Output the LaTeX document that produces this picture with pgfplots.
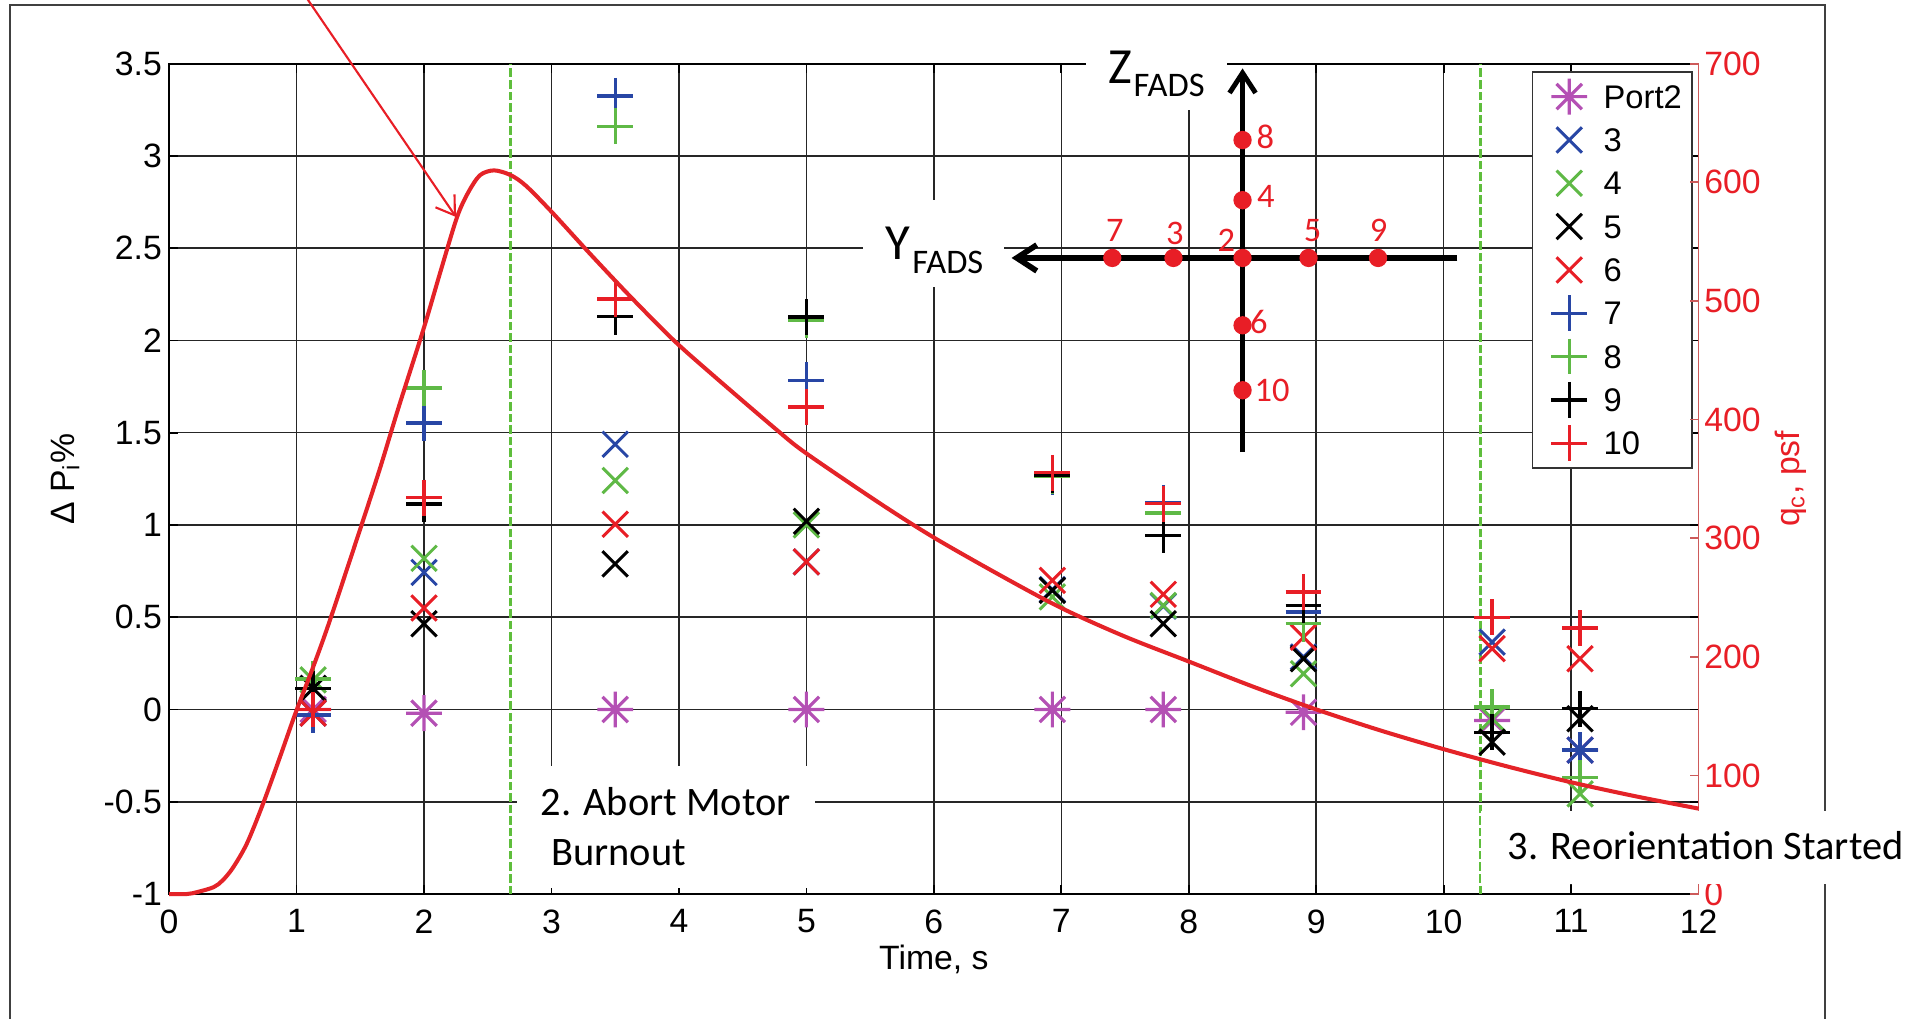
\documentclass[border=0pt]{standalone}
\usepackage{pgfplots}
\pgfplotsset{compat=1.18}
\usepackage{fontspec}
\setmainfont{Liberation Sans}
\newfontfamily\calib{Carlito}
\usetikzlibrary{arrows.meta}

\definecolor{mblue}{RGB}{40,70,165}
\definecolor{mgreen}{RGB}{95,185,70}
\definecolor{mred}{RGB}{232,30,38}
\definecolor{mpurple}{RGB}{180,80,180}
\definecolor{qred}{RGB}{228,35,40}
\definecolor{raxis}{RGB}{205,90,90}
\definecolor{gdash}{RGB}{95,190,60}

\pgfdeclareplotmark{mstar}{%
  \pgfpathmoveto{\pgfqpoint{-\pgfplotmarksize}{0pt}}\pgfpathlineto{\pgfqpoint{\pgfplotmarksize}{0pt}}%
  \pgfpathmoveto{\pgfqpoint{0pt}{-\pgfplotmarksize}}\pgfpathlineto{\pgfqpoint{0pt}{\pgfplotmarksize}}%
  \pgfpathmoveto{\pgfqpoint{-.7071\pgfplotmarksize}{-.7071\pgfplotmarksize}}\pgfpathlineto{\pgfqpoint{.7071\pgfplotmarksize}{.7071\pgfplotmarksize}}%
  \pgfpathmoveto{\pgfqpoint{-.7071\pgfplotmarksize}{.7071\pgfplotmarksize}}\pgfpathlineto{\pgfqpoint{.7071\pgfplotmarksize}{-.7071\pgfplotmarksize}}%
  \pgfusepathqstroke}

\newcommand{\tf}{\fontsize{9.6pt}{11.5pt}\selectfont}
\newcommand{\lf}{\fontsize{9.3pt}{11pt}\selectfont}

\begin{document}
\begin{tikzpicture}
\begin{axis}[
  scale only axis, width=15.286cm, height=8.299cm,
  xmin=0, xmax=12, ymin=-1, ymax=3.5,
  clip=false,
  xtick={0,1,2,3,4,5,6,7,8,9,10,11,12},
  xticklabels={0,1,2,3,4,5,6,7,8,9,10,11,12},
  ytick={-1,-0.5,0,0.5,1,1.5,2,2.5,3,3.5},
  yticklabels={-1,-0.5,0,0.5,1,1.5,2,2.5,3,3.5},
  grid=major, grid style={black!85, line width=0.45pt},
  axis line style={black, line width=0.5pt},
  tick style={black, line width=0.5pt}, major tick length=0.09cm, tick align=inside,
  tick label style={font=\tf},
  xticklabel style={anchor=north, inner sep=0pt, yshift=-0.15cm},
  yticklabel style={anchor=east, inner sep=0pt, xshift=-0.065cm},
  legend style={at={(axis description cs:0.99614,0.99108)}, anchor=north east,
    draw=black!80, line width=0.5pt, fill=white, inner xsep=0.1cm, inner ysep=0.03cm,
    row sep=0pt, font=\lf,
    nodes={inner sep=0pt, text height=0.3315cm, text depth=0.1015cm}},
  legend cell align=left,
  legend image code/.code={\path (0cm,0cm) (0.577cm,0cm); \draw[only marks,#1] plot coordinates {(0.25cm,0cm)};},
]
\coordinate (O) at (axis cs:0,-1);

\addplot[forget plot, gdash, line width=0.85pt, dash pattern=on 0.085cm off 0.03cm] coordinates {(2.68,-1) (2.68,3.5)};
\addplot[forget plot, gdash, line width=0.85pt, dash pattern=on 0.085cm off 0.03cm] coordinates {(10.29,-1) (10.29,3.5)};

\addplot[only marks, mark=mstar, color=mpurple, mark size=5.1pt, line width=0.9pt] coordinates {
 (1.13,0) (2.0,-0.02) (3.5,0) (5.0,0) (6.93,0) (7.8,0) (8.9,-0.015) (10.38,-0.06) (11.07,-0.22)};
\addlegendentry{Port2}
\addplot[only marks, mark=x, color=mblue, mark size=5.1pt, line width=0.85pt] coordinates {
 (1.13,-0.02) (2.0,0.743) (3.5,1.437) (5.0,0.80) (6.93,0.65) (7.8,0.56) (8.9,0.284) (10.38,0.365) (11.07,-0.22)};
\addlegendentry{3}
\addplot[only marks, mark=x, color=mgreen, mark size=5.1pt, line width=0.85pt] coordinates {
 (1.13,0.16) (2.0,0.819) (3.5,1.241) (5.0,1.0) (6.93,0.61) (7.8,0.564) (8.9,0.194) (10.38,-0.05) (11.07,-0.457)};
\addlegendentry{4}
\addplot[only marks, mark=x, color=black, mark size=5.1pt, line width=0.85pt] coordinates {
 (1.13,0.115) (2.0,0.465) (3.5,0.789) (5.0,1.02) (6.93,0.645) (7.8,0.465) (8.9,0.275) (10.38,-0.177) (11.07,-0.05)};
\addlegendentry{5}
\addplot[only marks, mark=x, color=mred, mark size=5.1pt, line width=0.85pt] coordinates {
 (1.13,-0.02) (2.0,0.55) (3.5,1.004) (5.0,0.80) (6.93,0.70) (7.8,0.624) (8.9,0.392) (10.38,0.33) (11.07,0.275)};
\addlegendentry{6}
\addplot[only marks, mark=+, color=mblue, mark size=5.1pt, line width=0.95pt] coordinates {
 (1.13,-0.03) (2.0,1.553) (3.5,3.325) (5.0,1.784) (6.93,1.262) (7.8,1.12) (8.9,0.528) (10.38,0.013) (11.07,-0.22)};
\addlegendentry{7}
\addplot[only marks, mark=+, color=mgreen, mark size=5.1pt, line width=0.95pt] coordinates {
 (1.13,0.166) (2.0,1.743) (3.5,3.16) (5.0,2.11) (6.93,1.265) (7.8,1.065) (8.9,0.465) (10.38,0.013) (11.07,-0.37)};
\addlegendentry{8}
\addplot[only marks, mark=+, color=black, mark size=5.1pt, line width=0.95pt] coordinates {
 (1.13,0.112) (2.0,1.113) (3.5,2.128) (5.0,2.127) (6.93,1.27) (7.8,0.944) (8.9,0.564) (10.38,-0.123) (11.07,0.004)};
\addlegendentry{9}
\addplot[only marks, mark=+, color=mred, mark size=5.1pt, line width=0.95pt] coordinates {
 (1.13,0.0) (2.0,1.148) (3.5,2.224) (5.0,1.64) (6.93,1.283) (7.8,1.115) (8.9,0.636) (10.38,0.50) (11.07,0.441)};
\addlegendentry{10}

% FADS port diagram
\draw[black, line width=1.4pt, -{Straight Barb[length=0.2cm,width=0.26cm]}] (axis cs:8.422,1.395) -- (axis cs:8.422,3.474);
\draw[black, line width=1.6pt, -{Straight Barb[length=0.2cm,width=0.26cm]}] (axis cs:10.107,2.447) -- (axis cs:6.61,2.447);
\addplot[forget plot, only marks, mark=*, mark size=2.4pt, color=mred] coordinates {
 (7.40,2.447) (7.88,2.447) (8.422,2.447) (8.94,2.447) (9.485,2.447)
 (8.422,3.086) (8.422,2.76) (8.422,2.082) (8.422,1.73)};
\begin{scope}[every node/.style={text=mred, inner sep=0pt, font={\calib\fontsize{9.8pt}{11pt}\selectfont}}]
\node at (axis cs:7.421,2.598) {7};
\node at (axis cs:7.891,2.580) {3};
\node at (axis cs:8.294,2.544) {2};
\node at (axis cs:8.972,2.598) {5};
\node at (axis cs:9.490,2.598) {9};
\node at (axis cs:8.600,3.104) {8};
\node at (axis cs:8.605,2.779) {4};
\node at (axis cs:8.550,2.100) {6};
\node at (axis cs:8.654,1.730) {10};
\end{scope}

\node[rotate=90, anchor=base, inner sep=0pt, font=\tf] at (axis description cs:-0.06215,0.5) {Δ P\textsubscript{i}\%};
\node[anchor=north, inner sep=0pt, font=\tf] at ([yshift=-0.50cm]axis description cs:0.5,0) {Time, s};
\end{axis}

\begin{axis}[
  scale only axis, width=15.286cm, height=8.299cm,
  xmin=0, xmax=12, ymin=0, ymax=700,
  clip=false,
  axis x line=none, axis y line*=right,
  ytick={0,100,200,300,400,500,600,700},
  yticklabels={0,100,200,300,400,500,600,700},
  y axis line style={raxis, line width=0.5pt},
  ytick style={raxis, line width=0.5pt}, major tick length=0.09cm, tick align=inside,
  yticklabel style={font=\tf, text=mred, anchor=west, inner sep=0pt, xshift=0.05cm},
]
\addplot[qred, line width=1.15pt, smooth] coordinates {
 (0,0) (0.14,0) (0.22,1.6) (0.35,5.8) (0.42,11.5) (0.5,22) (0.61,42.5) (0.735,75.5) (0.87,115.5)
 (0.99,152) (1.13,191.3) (1.26,230.2) (1.51,311.1) (1.656,359.3) (1.8,410) (2.0,477.6)
 (2.13,525) (2.26,570.9) (2.35,592) (2.44,606) (2.55,610) (2.68,606) (2.8,597) (3.0,575.2)
 (3.3,540) (3.62,503.5) (3.96,466.7) (4.27,437.1) (4.77,391.0) (5.0,371.4) (5.58,329.1)
 (6.0,300.5) (6.52,268.7) (7,241.1) (7.5,217) (8,196.0) (8.5,175) (9,155.6) (9.5,138)
 (10,122.1) (10.5,107.5) (11,94.2) (11.5,82.5) (12,72.0)};
\node[rotate=90, anchor=base, inner sep=0pt, font=\tf, text=mred] at (axis description cs:1.0657,0.5) {q\textsubscript{c}, psf};
\end{axis}

\begin{scope}[shift={(O)}, xshift=-1.69cm, yshift=8.935cm, x=0.01cm, y=-0.01cm]
\draw[black!75, line width=0.6pt] (10,5) rectangle (1825,1045);
\draw[mred, line width=0.6pt, -{Straight Barb[length=0.176cm,width=0.23cm]}] (294.4,-20) -- (456,217);
\fill[white] (1086,40) rectangle (1227,110);
\fill[white] (863,200) rectangle (1004,287);
\fill[white] (517,766) rectangle (815,888);
\fill[white] (1481,811) rectangle (1935,884);
\node[anchor=base west, inner sep=0pt, font={\calib\fontsize{14.4pt}{16pt}\selectfont}] at (1108,84) {Z};
\node[anchor=base west, inner sep=0pt, font={\calib\fontsize{9.8pt}{11pt}\selectfont}] at (1133,96.7) {FADS};
\node[anchor=base west, inner sep=0pt, font={\calib\fontsize{14.4pt}{16pt}\selectfont}] at (885,260) {Y};
\node[anchor=base west, inner sep=0pt, font={\calib\fontsize{9.8pt}{11pt}\selectfont}] at (911.7,273.3) {FADS};
\node[anchor=base west, inner sep=0pt, font={\calib\fontsize{11.5pt}{13pt}\selectfont}] at (540,815.4) {2. Abort Motor};
\node[anchor=base west, inner sep=0pt, font={\calib\fontsize{11.5pt}{13pt}\selectfont}] at (550.7,865.4) {Burnout};
\node[anchor=base west, inner sep=0pt, font={\calib\fontsize{11.5pt}{13pt}\selectfont}] at (1507,860) {3. Reorientation Started};
\end{scope}

\pgfresetboundingbox
\begin{scope}[shift={(O)}, xshift=-1.69cm, yshift=8.935cm, x=0.01cm, y=-0.01cm]
\path[use as bounding box] (0,0) rectangle (1919,1019);
\end{scope}
\end{tikzpicture}
\end{document}
